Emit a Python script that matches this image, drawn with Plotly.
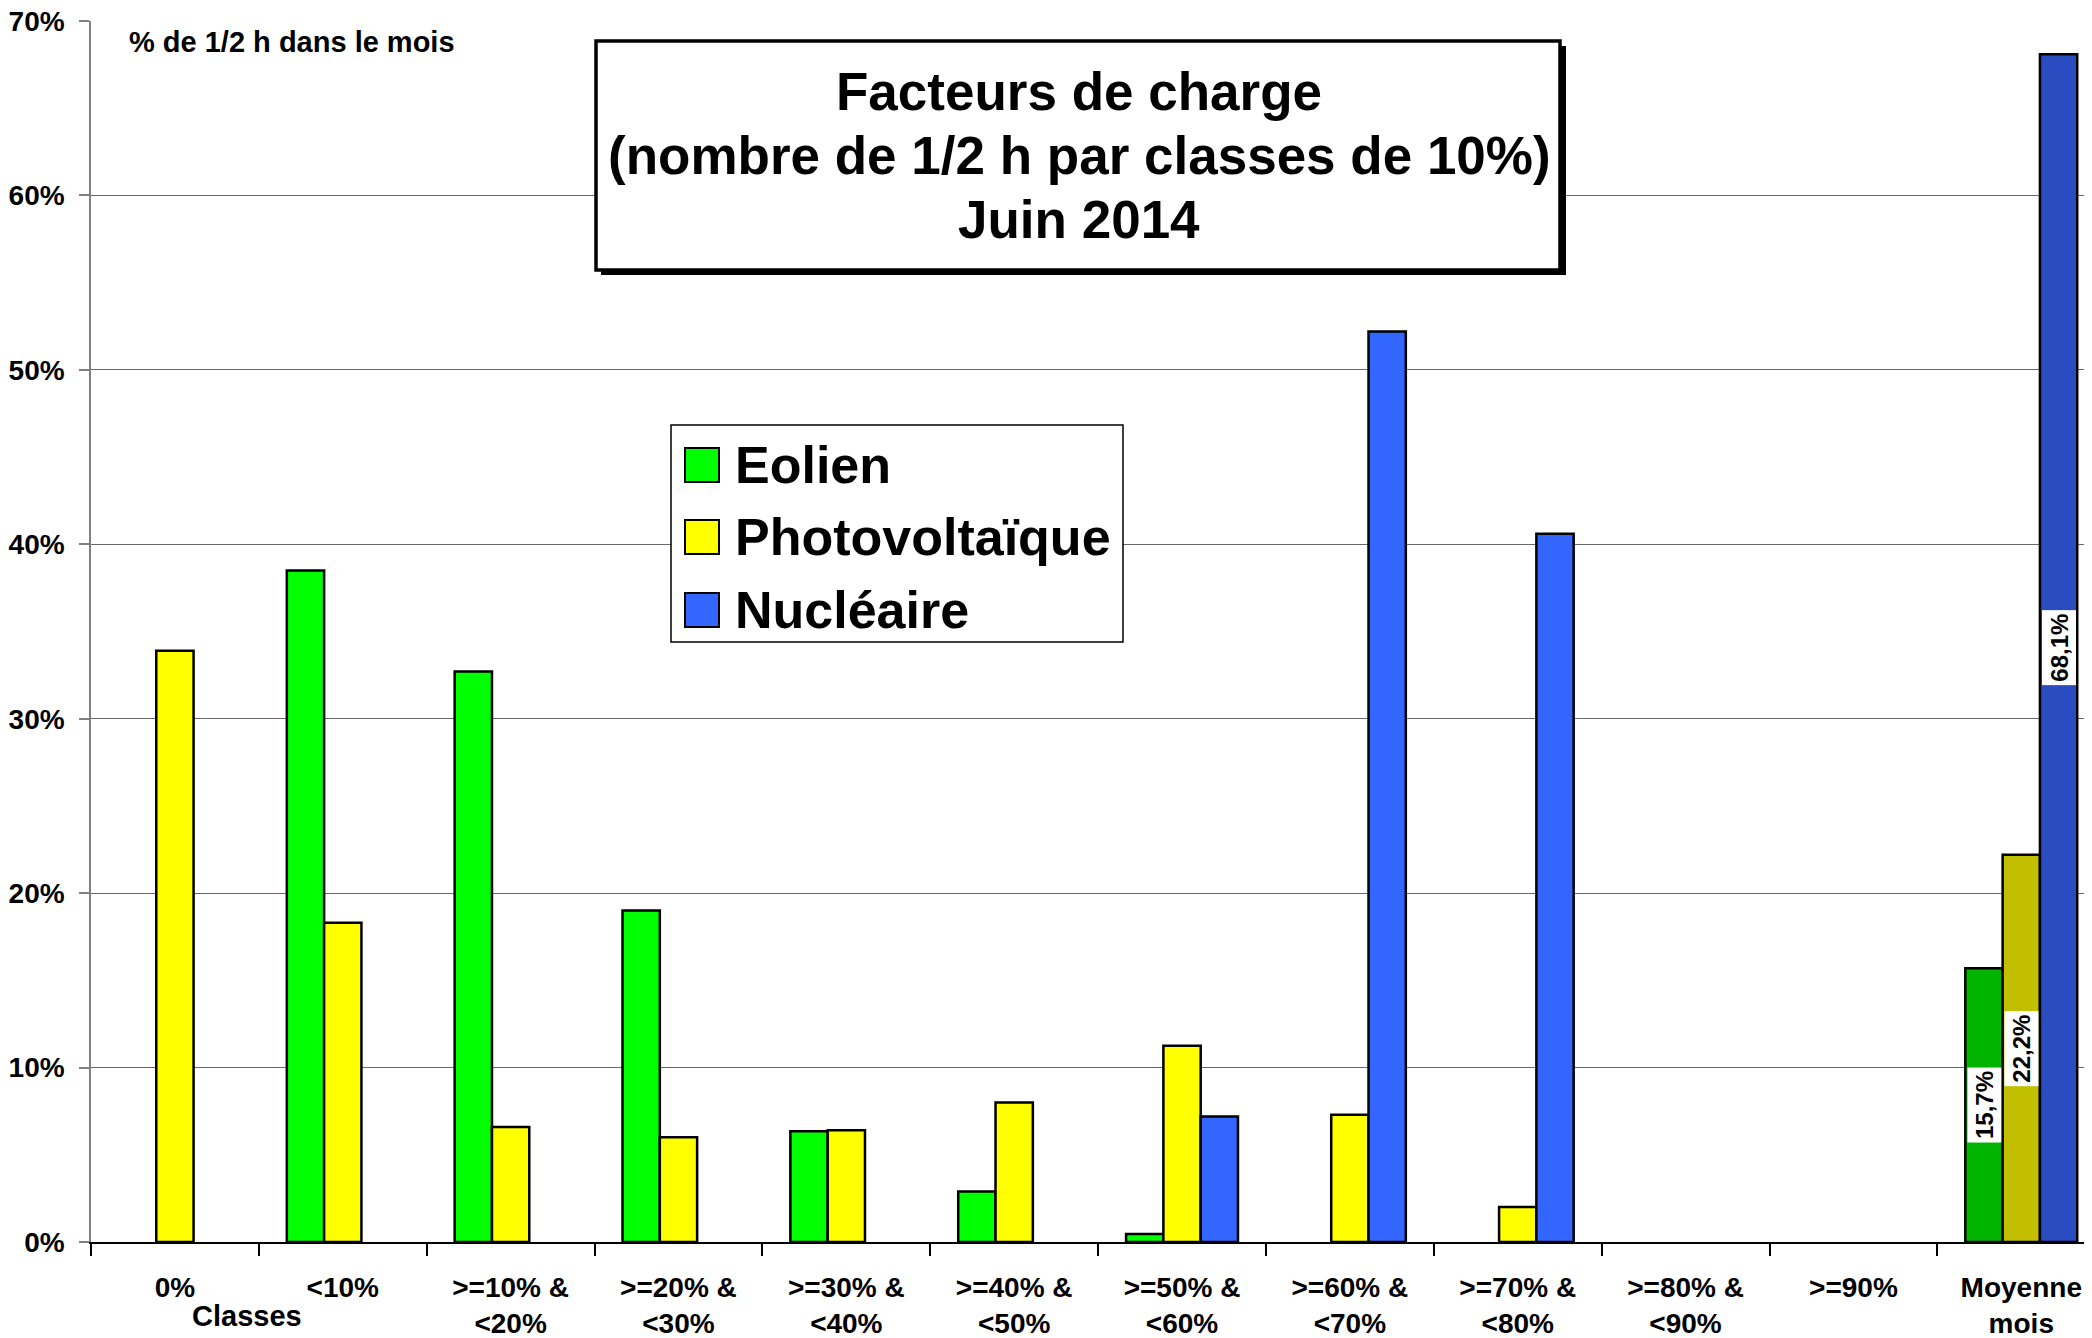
import plotly.graph_objects as go

# ---------------- data ----------------
categories = ["0%", "<10%", ">=10% &<br><20%", ">=20% &<br><30%", ">=30% &<br><40%",
              ">=40% &<br><50%", ">=50% &<br><60%", ">=60% &<br><70%", ">=70% &<br><80%",
              ">=80% &<br><90%", ">=90%", "Moyenne<br>mois"]
series_names = ["Eolien", "Photovoltaïque", "Nucléaire"]
eolien = [None, 38.5, 32.7, 19.0, 6.35, 2.9, 0.46, None, None, None, None, 15.7]
photovoltaique = [33.9, 18.3, 6.6, 6.0, 6.4, 8.0, 11.25, 7.3, 2.0, None, None, 22.2]
nucleaire = [None, None, None, None, None, None, 7.2, 52.2, 40.6, None, None, 68.1]
y_tickvals = [0, 10, 20, 30, 40, 50, 60, 70]
y_ticktext = ["0%", "10%", "20%", "30%", "40%", "50%", "60%", "70%"]
title_lines = ["Facteurs de charge", "(nombre de 1/2 h par classes de 10%)", "Juin 2014"]
y_label = "% de 1/2 h dans le mois"
x_label = "Classes"

# ---------------- style ----------------
OFF = 8                      # page body margin
W, H = 2092 - OFF, 1338 - OFF
ML, MR, MT, MB = 91 - OFF, 0, 21 - OFF, 1338 - 1242
FONT = "Liberation Sans, Arial, sans-serif"
bright = ["#00FF00", "#FFFF00", "#3366FF"]
shaded = ["#00B400", "#C2BE00", "#2A4CC0"]  # last group (gradient bars in original)
series = [eolien, photovoltaique, nucleaire]

plot_w = W - ML - MR
plot_h = H - MT - MB
cat_px = 167.85
x_max = -0.5 + plot_w / cat_px


def px(x):
    return (x - OFF - ML) / plot_w


def py(y):
    return (H - MB - (y - OFF)) / plot_h


fig = go.Figure()
for name, vals, c_b, c_s in zip(series_names, series, bright, shaded):
    colors = [c_b] * (len(categories) - 1) + [c_s]
    fig.add_trace(go.Bar(
        x=categories, y=vals, name=name,
        marker=dict(color=colors, line=dict(color="black", width=2.5)),
        showlegend=False,
    ))

# data labels for the monthly averages (last category)
n_series = len(series)
group_w = 1 - 1 / 3
bar_w = group_w / n_series
last = len(categories) - 1
annotations = []
for i, vals in enumerate(series):
    v = vals[last]
    xpos = last - group_w / 2 + bar_w * (i + 0.5)
    annotations.append(dict(
        x=xpos, y=v / 2, xref="x", yref="y",
        text=f"{v:.1f}".replace(".", ",") + "%",
        textangle=-90, showarrow=False, bgcolor="white", borderpad=3,
        font=dict(family=FONT, size=24, color="black", weight="bold"),
    ))

# title box
shapes = [
    dict(type="rect", xref="paper", yref="paper", layer="above",
         x0=px(601), x1=px(1566), y0=py(46), y1=py(275),
         fillcolor="black", line=dict(width=0)),
    dict(type="rect", xref="paper", yref="paper", layer="above",
         x0=px(596), x1=px(1560), y0=py(41), y1=py(270),
         fillcolor="white", line=dict(color="black", width=3.5)),
]
for line, yc in zip(title_lines, [91, 156, 220]):
    annotations.append(dict(
        x=px(1079), y=py(yc), xref="paper", yref="paper", showarrow=False,
        text=line, xanchor="center", yanchor="middle",
        font=dict(family=FONT, size=53, color="black", weight="bold"),
    ))

# custom legend
shapes.append(dict(type="rect", xref="paper", yref="paper", layer="above",
                   x0=px(671), x1=px(1123), y0=py(425), y1=py(642),
                   fillcolor="white", line=dict(color="black", width=1.5)))
for name, c, yc in zip(series_names, bright, [465, 537, 610]):
    shapes.append(dict(type="rect", xref="paper", yref="paper", layer="above",
                       x0=px(685), x1=px(719), y0=py(yc - 17), y1=py(yc + 17),
                       fillcolor=c, line=dict(color="black", width=2)))
    annotations.append(dict(
        x=px(733), y=py(yc), xref="paper", yref="paper", showarrow=False,
        text=name, xanchor="left", yanchor="middle",
        font=dict(family=FONT, size=52, color="black", weight="bold"),
    ))

annotations.append(dict(
    x=px(127), y=py(42), xref="paper", yref="paper", showarrow=False,
    text=y_label, xanchor="left", yanchor="middle",
    font=dict(family=FONT, size=29, color="black", weight="bold"),
))
annotations.append(dict(
    x=px(247), y=py(1316), xref="paper", yref="paper", showarrow=False,
    text=x_label, xanchor="center", yanchor="middle", bgcolor="white", borderpad=0,
    font=dict(family=FONT, size=29, color="black", weight="bold"),
))

fig.update_layout(
    width=W, height=H,
    margin=dict(l=ML, r=MR, t=MT, b=MB, pad=0, autoexpand=False),
    paper_bgcolor="white", plot_bgcolor="white",
    barmode="group", bargap=1 / 3, bargroupgap=0,
    font=dict(family=FONT, color="black"),
    shapes=shapes, annotations=annotations,
    xaxis=dict(
        type="category", range=[-0.5, x_max], automargin=False,
        tickson="boundaries", ticks="outside", ticklen=12, tickcolor="black", tickwidth=1.5,
        showline=True, linecolor="black", linewidth=2,
        showgrid=False, ticklabelstandoff=19, ticklabeloverflow="allow",
        tickfont=dict(family=FONT, size=28, color="black", weight="bold"),
    ),
    yaxis=dict(
        range=[0, 70], tickmode="array", tickvals=y_tickvals, ticktext=y_ticktext,
        automargin=False,
        ticks="outside", ticklen=10, tickcolor="#808080", tickwidth=1.5,
        showline=True, linecolor="#808080", linewidth=1.5,
        showgrid=True, gridcolor="#6a6a6a", gridwidth=1, zeroline=False,
        ticklabelstandoff=9, ticklabeloverflow="allow",
        tickfont=dict(family=FONT, size=28, color="black", weight="bold"),
    ),
)

fig.write_html("out.html")
